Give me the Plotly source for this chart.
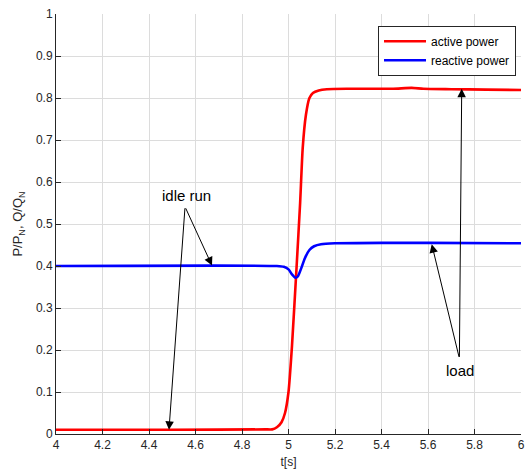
import plotly.graph_objects as go

# Active power (P/P_N)
t_active = [4.00, 4.50, 4.90, 4.93, 4.95, 4.97, 4.985, 5.00, 5.015, 5.035, 5.05, 5.061,
            5.075, 5.09, 5.105, 5.13, 5.165, 5.25, 5.45, 5.53, 5.58, 5.70, 5.85, 6.00]
p_active = [0.010, 0.010, 0.011, 0.011, 0.016, 0.028, 0.050, 0.10, 0.21, 0.40, 0.55, 0.68,
            0.76, 0.80, 0.812, 0.818, 0.821, 0.822, 0.822, 0.824, 0.822, 0.821, 0.820, 0.819]

# Reactive power (Q/Q_N)
t_reactive = [4.00, 4.95, 4.98, 5.00, 5.015, 5.03, 5.04, 5.055, 5.07, 5.09, 5.11, 5.14,
              5.20, 5.40, 5.60, 6.00]
q_reactive = [0.400, 0.400, 0.398, 0.392, 0.380, 0.372, 0.375, 0.395, 0.418, 0.438, 0.447, 0.452,
              0.454, 0.455, 0.455, 0.454]

x_ticks = [4, 4.2, 4.4, 4.6, 4.8, 5, 5.2, 5.4, 5.6, 5.8, 6]
y_ticks = [0, 0.1, 0.2, 0.3, 0.4, 0.5, 0.6, 0.7, 0.8, 0.9, 1]

# Annotation anchors (data coords)
idle_text = (4.561, 0.568)
idle_tail = (4.555, 0.541)
idle_heads = [(4.486, 0.010), (4.671, 0.401)]
load_text = (5.738, 0.152)
load_tail = (5.735, 0.180)
load_heads = [(5.616, 0.452), (5.745, 0.822)]

FONT = "Liberation Sans, Arial, sans-serif"
AX = "#262626"

fig = go.Figure()
fig.add_trace(go.Scatter(x=t_active, y=p_active, mode="lines", name="active power",
                         line=dict(color="#ff0000", width=2.6, shape="spline", smoothing=0.5)))
fig.add_trace(go.Scatter(x=t_reactive, y=q_reactive, mode="lines", name="reactive power",
                         line=dict(color="#0000ff", width=2.6, shape="spline", smoothing=0.6)))

annotations = []
for (hx, hy) in idle_heads:
    annotations.append(dict(x=hx, y=hy, ax=idle_tail[0], ay=idle_tail[1], xref="x", yref="y",
                            axref="x", ayref="y", text="", showarrow=True, arrowhead=2,
                            arrowsize=1.7, arrowwidth=1, arrowcolor="black"))
for (hx, hy) in load_heads:
    annotations.append(dict(x=hx, y=hy, ax=load_tail[0], ay=load_tail[1], xref="x", yref="y",
                            axref="x", ayref="y", text="", showarrow=True, arrowhead=2,
                            arrowsize=1.7, arrowwidth=1, arrowcolor="black"))
annotations.append(dict(x=idle_text[0], y=idle_text[1], xref="x", yref="y", text="idle run",
                        showarrow=False, font=dict(family=FONT, size=15, color="black")))
annotations.append(dict(x=load_text[0], y=load_text[1], xref="x", yref="y", text="load",
                        showarrow=False, font=dict(family=FONT, size=15, color="black")))

fig.update_layout(
    width=528, height=473,
    margin=dict(l=56, r=7, t=14, b=39, autoexpand=False),
    paper_bgcolor="white", plot_bgcolor="white",
    font=dict(family=FONT, size=12, color=AX),
    annotations=annotations,
    legend=dict(x=0.6925, y=0.972, xanchor="left", yanchor="top",
                bgcolor="white", bordercolor=AX, borderwidth=1,
                font=dict(family=FONT, size=12, color="black"),
                tracegroupgap=0, itemwidth=42),
    showlegend=True,
)
fig.update_xaxes(range=[4, 6], tickvals=x_ticks, ticktext=[f"{v:g}" for v in x_ticks],
                 showgrid=True, gridcolor="#dcdcdc", gridwidth=1, automargin=False,
                 showline=True, linecolor=AX, linewidth=1, ticks="inside", ticklen=5,
                 tickcolor=AX, zeroline=False,
                 title=dict(text="t[s]", standoff=6, font=dict(family=FONT, size=12, color=AX)))
fig.update_yaxes(range=[0, 1], tickvals=y_ticks, ticktext=[f"{v:g}" for v in y_ticks],
                 showgrid=True, gridcolor="#dcdcdc", gridwidth=1, automargin=False,
                 showline=True, linecolor=AX, linewidth=1, ticks="inside", ticklen=5,
                 tickcolor=AX, zeroline=False,
                 title=dict(text="P/P<sub>N</sub>, Q/Q<sub>N</sub>", standoff=10,
                            font=dict(family=FONT, size=13, color=AX)))

fig.write_html("out.html", config={"displayModeBar": False},
               post_script="document.body.style.margin='0';document.body.style.overflow='hidden';")
